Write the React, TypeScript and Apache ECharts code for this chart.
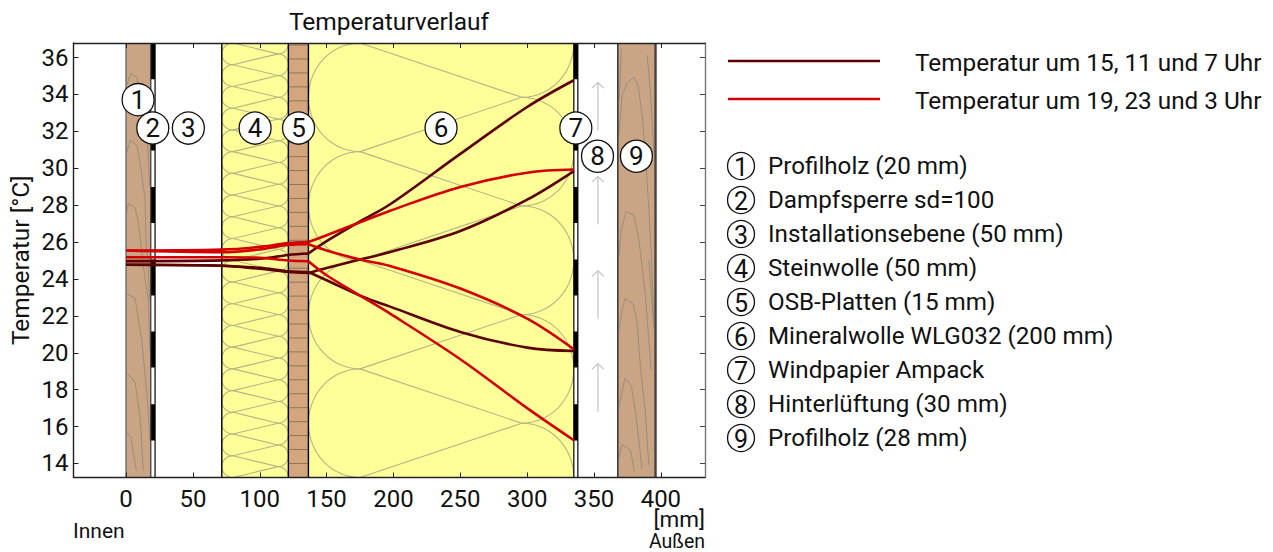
import React, { useEffect, useRef } from "react";
import * as echarts from "echarts";

const titleText = "Temperaturverlauf";
const yName = "Temperatur [°C]";
const xTicks = [0, 50, 100, 150, 200, 250, 300, 350, 400];
const yTicks = [14, 16, 18, 20, 22, 24, 26, 28, 30, 32, 34, 36];
const xMin = -39.3, xMax = 433, yMin = 13.24, yMax = 36.79;

const depth = [0, 71.6, 100, 121.4, 136.4, 150, 175, 197.5, 250, 300, 334.9];
const dark1 = [24.97, 25.01, 25.1, 25.3, 25.38, 26.05, 27.12, 28.05, 30.78, 33.32, 34.77];
const dark2 = [24.77, 24.72, 24.55, 24.38, 24.33, 24.6, 25.05, 25.46, 26.6, 28.3, 29.85];
const dark3 = [24.77, 24.72, 24.6, 24.42, 24.38, 23.93, 23.1, 22.5, 21.13, 20.28, 20.1];
const red1 = [25.54, 25.59, 25.74, 25.95, 26.0, 26.37, 27.07, 27.7, 28.99, 29.76, 29.93];
const red2 = [25.54, 25.45, 25.6, 25.85, 25.88, 25.55, 25.05, 24.7, 23.48, 21.85, 20.19];
const red3 = [25.18, 25.18, 25.15, 25.0, 24.96, 24.2, 23.1, 22.12, 19.65, 17.0, 15.26];

const legendNames = ["Temperatur um 15, 11 und 7 Uhr", "Temperatur um 19, 23 und 3 Uhr"];
const layerNames = [
  "Profilholz (20 mm)", "Dampfsperre sd=100", "Installationsebene (50 mm)", "Steinwolle (50 mm)",
  "OSB-Platten (15 mm)", "Mineralwolle WLG032 (200 mm)", "Windpapier Ampack", "Hinterlüftung (30 mm)", "Profilholz (28 mm)",
];
const markerX = [9, 20, 46.6, 96.5, 129, 235.6, 336.4, 352.6, 381.7];
const markerT = [33.72, 32.18, 32.18, 32.18, 32.18, 32.18, 32.18, 30.65, 30.65];

const wood1 = [0, 18.5];
const strip1 = [18.5, 21.7];
const wool1 = [71.6, 121.4, 80, 113.7];
const osb = [121.4, 136.4];
const wool2 = [136.4, 334.9, 175, 296];
const strip2 = [334.9, 337.9];
const wood2 = [367.8, 396];
const arrowX = 352.9;
const arrowTipsT = [34.64, 29.55, 24.44, 19.4];
const arrowLenT = 2.59;
const dashLowT = [34.82, 30.97, 27.03, 23.1, 19.2, 15.25];
const dashLenT = 1.96;
const osbLinesT = Array.from({ length: 32 }, (_, i) => 14 + i * 0.756);

const FONT = "Roboto";
const WOOD = "#c9a585";
const OSB = "#d4a67e";
const YEL = "#ffff99";
const GRAIN = "#9c8d7c";
const WOOLLINE = "#b5b583";
const DARK = "#5c0000";
const RED = "#d40000";

const pt = (x: number, y: number) => [(x - 126) / 1.3368, 36 - (y - 57.3) / 18.45];
const grainPx: number[][][] = [
  [[126.7,85],[131,72.7],[136.7,77],[140.7,95],[143,109],[146,130],[148,150],[149.5,185]],
  [[126.7,152],[130,140],[136.7,145],[140,162],[145,199],[146,242],[148,265],[149.5,300]],
  [[126.7,212],[128.3,203],[135,207.7],[138.3,222],[140.7,242],[143.3,266.7],[148.3,300],[150,353]],
  [[126,293],[135,298],[141.7,340],[147,395],[150,440]],
  [[126,371.7],[135,382],[140,417],[143.3,470]],
  [[126,431.7],[130.7,436.7],[136,469.3]],
  [[621.3,48],[619,100]],
  [[618.7,135],[622,95],[627,82.7],[633.7,77],[638,85],[642,115],[645.3,155],[648.7,209],[651.3,258],[653.5,320]],
  [[647,55],[650.3,92],[653.7,152]],
  [[618.7,255],[621.3,229],[626,211],[633.7,215],[638,235],[641.3,260],[645,293],[651,370]],
  [[648.7,260],[653.7,327]],
  [[618.7,330],[622,310],[624.7,298.3],[633,303.3],[637,323],[640.3,367],[645,410],[648.7,465]],
  [[618.7,407],[624.7,377.7],[631.3,386],[636,417],[642,469]],
  [[618,460],[622,444.3],[630.3,450],[634.3,470.7]],
];
const grain = grainPx.map((l) => l.map(([x, y]) => pt(x, y)));

function renderLayers(_p: any, api: any) {
  const C = (x: number, t: number) => api.coord([x, t]);
  const children: any[] = [];
  const rect = (a: number, b: number, fill: string, tHi = yMax, tLo = yMin) => {
    const p = C(a, tHi), q = C(b, tLo);
    children.push({ type: "rect", shape: { x: p[0], y: p[1], width: q[0] - p[0], height: q[1] - p[1] }, style: { fill } });
  };
  const poly = (pts: number[][], stroke: string, lw = 1) =>
    children.push({ type: "polyline", shape: { points: pts }, style: { fill: "none", stroke, lineWidth: lw } });
  const vline = (x: number, stroke: string, lw: number) => poly([C(x, yMin), C(x, yMax)], stroke, lw);

  rect(wood1[0], wood1[1], WOOD);
  rect(wood2[0], wood2[1], WOOD);
  rect(wool1[0], wool1[1], YEL);
  rect(osb[0], osb[1], OSB);
  rect(wool2[0], wool2[1], YEL);

  osbLinesT.forEach((t) => poly([C(osb[0], t), C(osb[1], t)], "#8d7a55", 1));

  const wool = (w: number[], P: number) => {
    const [xL, xR, cL, cR] = w;
    const n = Math.ceil((yMax - yMin) / P) + 2;
    for (let k = -1; k < n; k++) {
      const b0 = yMax - k * P, b1 = b0 - P, mid = b0 - P / 2;
      const lp: number[][] = [], rp: number[][] = [];
      for (let i = 0; i <= 28; i++) {
        const a = (i / 28) * Math.PI;
        lp.push(C(cL - (cL - xL) * Math.sin(a), b0 - (P / 2) * (1 - Math.cos(a))));
        rp.push(C(cR + (xR - cR) * Math.sin(a), mid - (P / 2) * (1 - Math.cos(a))));
      }
      poly(lp, WOOLLINE, 1.1);
      poly(rp, WOOLLINE, 1.1);
      poly([C(cL, b0), C(cR, mid)], WOOLLINE, 1.1);
      poly([C(cL, b1), C(cR, mid)], WOOLLINE, 1.1);
    }
  };
  wool(wool1, (yMax - yMin) / 20);
  wool(wool2, (yMax - yMin) / 4);

  grain.forEach((l) => poly(l.map(([x, t]) => C(x, t)), GRAIN, 1));

  [strip1, strip2].forEach((s) => {
    rect(s[0], s[1], "#ffffff");
    dashLowT.forEach((t) => rect(s[0], s[1], "#000000", t + dashLenT, t));
  });

  vline(wood1[0], "#777777", 1.6);
  vline(wood1[1], "#333333", 1.2);
  vline(strip1[1], "#000000", 1.2);
  vline(wool1[0], "#000000", 1.4);
  vline(wool1[1], "#000000", 1.4);
  vline(osb[1], "#000000", 1.4);
  vline(wool2[1], "#000000", 1.2);
  vline(strip2[1], "#000000", 1.2);
  vline(wood2[0], "#3f3a34", 1.6);
  vline(wood2[1], "#4a423a", 2.4);

  arrowTipsT.forEach((t) => {
    const tip = C(arrowX, t), tail = C(arrowX, t - arrowLenT);
    poly([tail, tip], "#c4c4c4", 1.2);
    poly([[tip[0] - 6, tip[1] + 5.5], tip, [tip[0] + 6, tip[1] + 5.5]], "#c4c4c4", 1.2);
  });
  return { type: "group", children };
}

const KINK = 5;
const lineSeries = (name: string, vals: number[], color: string, z: number) =>
  [[0, KINK], [KINK - 1, depth.length]].map(([a, b], j) => ({
    name: name + (j ? " außen" : " innen"), type: "line", z, xAxisIndex: 0, yAxisIndex: 0, showSymbol: false, symbol: "none",
    smooth: 0.35,
    lineStyle: { color, width: 2.6 },
    data: depth.slice(a, b).map((d, i) => [d, vals[a + i]]),
  }));

const axisCommon = { silent: true, splitLine: { show: false }, z: 3 };

export default function App() {
  const ref = useRef<HTMLDivElement>(null);
  useEffect(() => {
    const chart = echarts.init(ref.current!, undefined, { renderer: "svg" });
    const graphic: any[] = [];
    const text = (x: number, y: number, t: string, size: number, align = "left") =>
      graphic.push({ type: "text", x, y, style: { text: t, fill: "#111", font: `${size}px ${FONT}`, textAlign: align, textVerticalAlign: "middle" } });
    text(73, 531, "Innen", 21);
    text(705, 519, "[mm]", 22.5, "right");
    text(705, 541, "Außen", 19.5, "right");
    [61, 99].forEach((y, i) => {
      graphic.push({ type: "line", shape: { x1: 728, y1: y, x2: 880, y2: y }, style: { stroke: i ? RED : DARK, lineWidth: 2.4 } });
      text(915, y + 1, legendNames[i], 24.3);
    });
    layerNames.forEach((n, i) => {
      const y = 166 + i * 34;
      graphic.push({ type: "circle", shape: { cx: 741, cy: y, r: 13.5 }, style: { fill: "#fff", stroke: "#111", lineWidth: 1.3 } });
      text(741, y + 1, String(i + 1), 25, "center");
      text(768, y, n, 24.2);
    });

    chart.setOption({
      animation: false,
      title: { text: titleText, left: 384, top: 4, textAlign: "center", textStyle: { fontFamily: FONT, fontSize: 24.5, fontWeight: "normal", color: "#111" } },
      grid: { left: 73.5, top: 43, width: 631.5, height: 434.5, containLabel: false },
      xAxis: [
        { ...axisCommon, type: "value", position: "bottom", min: xMin, max: xMax,
          axisLine: { show: true, onZero: false, lineStyle: { color: "#222", width: 1.4 } },
          axisTick: { show: true, inside: true, length: 5, customValues: xTicks, lineStyle: { color: "#222" } },
          axisLabel: { show: true, customValues: xTicks, margin: 9, fontFamily: FONT, fontSize: 24, color: "#111", showMinLabel: true, showMaxLabel: true } },
        { ...axisCommon, type: "value", position: "top", min: xMin, max: xMax,
          axisLine: { show: true, onZero: false, lineStyle: { color: "#222", width: 1.4 } },
          axisTick: { show: true, inside: true, length: 5, customValues: xTicks, lineStyle: { color: "#222" } },
          axisLabel: { show: false } },
      ],
      yAxis: [
        { ...axisCommon, type: "value", position: "left", min: yMin, max: yMax, name: yName, nameLocation: "middle", nameGap: 41,
          nameTextStyle: { fontFamily: FONT, fontSize: 24.5, color: "#111" },
          axisLine: { show: true, onZero: false, lineStyle: { color: "#222", width: 1.4 } },
          axisTick: { show: true, inside: true, length: 5, customValues: yTicks, lineStyle: { color: "#222" } },
          axisLabel: { show: true, customValues: yTicks, margin: 5, fontFamily: FONT, fontSize: 24, color: "#111" } },
        { ...axisCommon, type: "value", position: "right", min: yMin, max: yMax,
          axisLine: { show: true, onZero: false, lineStyle: { color: "#777", width: 1.4 } },
          axisTick: { show: true, inside: true, length: 5, customValues: yTicks, lineStyle: { color: "#444" } },
          axisLabel: { show: false } },
      ],
      series: [
        { type: "custom", z: 2, clip: true, silent: true, xAxisIndex: 0, yAxisIndex: 0, renderItem: renderLayers, data: [[0, 14]] },
        ...lineSeries(legendNames[0] + " a", dark1, DARK, 4),
        ...lineSeries(legendNames[0] + " b", dark2, DARK, 4),
        ...lineSeries(legendNames[0] + " c", dark3, DARK, 4),
        ...lineSeries(legendNames[1] + " a", red1, RED, 5),
        ...lineSeries(legendNames[1] + " b", red2, RED, 5),
        ...lineSeries(legendNames[1] + " c", red3, RED, 5),
        { type: "scatter", z: 6, silent: true, xAxisIndex: 0, yAxisIndex: 0, symbol: "circle", symbolSize: 32,
          itemStyle: { color: "#fff", borderColor: "#111", borderWidth: 1.3, opacity: 1 },
          label: { show: true, position: "inside", formatter: (p: any) => String(p.dataIndex + 1), fontFamily: FONT, fontSize: 26, color: "#111" },
          data: markerX.map((x, i) => [x, markerT[i]]) },
      ],
      graphic,
    });
    return () => chart.dispose();
  }, []);
  return <div ref={ref} style={{ position: "fixed", left: 0, top: 0, width: 1273, height: 552, background: "#fff" }} />;
}
